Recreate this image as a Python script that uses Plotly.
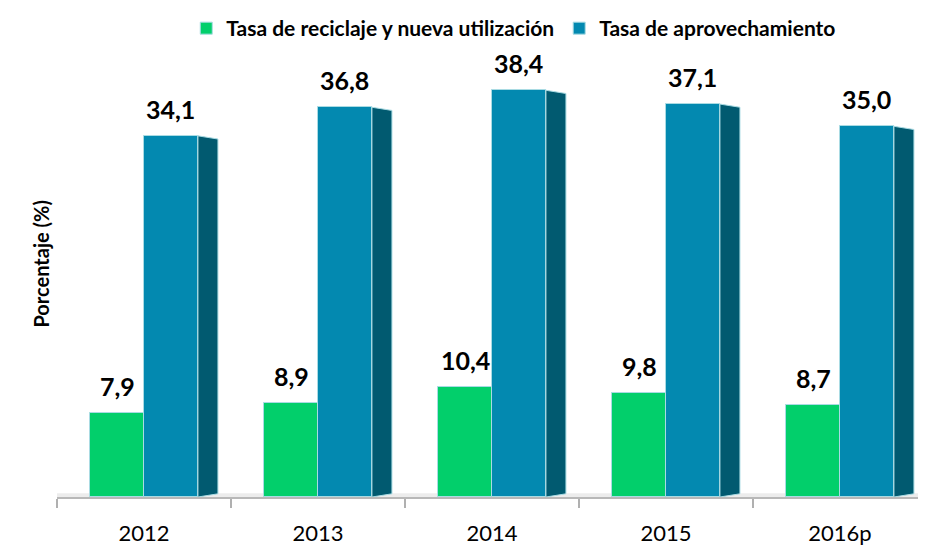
import plotly.graph_objects as go

categories = ["2012", "2013", "2014", "2015", "2016p"]
reciclaje = [7.9, 8.9, 10.4, 9.8, 8.7]
aprovechamiento = [34.1, 36.8, 38.4, 37.1, 35.0]
series_names = ["Tasa de reciclaje y nueva utilización", "Tasa de aprovechamiento"]

GREEN = "#02cf6b"
BLUE = "#0389b0"
SIDE = "#015a70"
EDGE = "#a9dbe3"
FONT = "Lato"

W = 0.31
idx = list(range(len(categories)))
x_green = [i - W / 2 for i in idx]
x_blue = [i + W / 2 for i in idx]

fig = go.Figure()
fig.add_trace(go.Bar(x=x_green, y=reciclaje, width=W, name=f"<b>{series_names[0]}</b>",
                     marker=dict(color=GREEN, line=dict(color=EDGE, width=1))))
fig.add_trace(go.Bar(x=x_blue, y=aprovechamiento, width=W, name=f"<b>{series_names[1]}</b>",
                     marker=dict(color=BLUE, line=dict(color=EDGE, width=1))))

shapes = []
# floor strip
shapes.append(dict(type="rect", xref="x", yref="y", x0=-0.62, x1=4.5, y0=0, y1=0.35,
                   fillcolor="#ececec", line=dict(width=0), layer="below"))
# side faces of blue bars (derived from data)
D = 0.115
for xb, v in zip(x_blue, aprovechamiento):
    x1 = xb + W / 2
    path = f"M {x1},0 L {x1 + D},0.3 L {x1 + D},{v - 0.3} L {x1},{v} Z"
    shapes.append(dict(type="path", xref="x", yref="y", path=path,
                       fillcolor=SIDE, line=dict(color=EDGE, width=1), layer="above"))

annotations = []
for xs, vals in ((x_green, reciclaje), (x_blue, aprovechamiento)):
    for xv, v in zip(xs, vals):
        annotations.append(dict(x=xv, y=v, xref="x", yref="y",
                                text=f"<b>{v:.1f}</b>".replace(".", ","),
                                showarrow=False, yanchor="bottom", yshift=10,
                                font=dict(family=FONT, size=25, color="black")))
annotations.append(dict(text="<b>Porcentaje (%)</b>", xref="paper", yref="paper",
                        x=-0.035, y=0.5, textangle=-90, showarrow=False,
                        font=dict(family=FONT, size=20, color="black")))

fig.update_layout(
    width=926, height=552,
    margin=dict(l=49, r=7, t=23, b=63, autoexpand=False),
    plot_bgcolor="white", paper_bgcolor="white",
    showlegend=True,
    legend=dict(orientation="h", x=0.525, xanchor="center", yref="container", y=1.0,
                yanchor="top", font=dict(family=FONT, size=21, color="black"),
                itemwidth=30, traceorder="normal"),
    xaxis=dict(range=[-0.5, 4.5], tickvals=idx, ticktext=categories, ticks="",
               showline=True, linecolor="#b8b8b8", linewidth=1.5, showgrid=False,
               zeroline=False, tickfont=dict(family=FONT, size=22, color="black"),
               ticklabelstandoff=16,
               minor=dict(tickvals=[i - 0.5 for i in idx] + [4.5], ticks="outside",
                          ticklen=9, tickcolor="#b0b0b0", tickwidth=1.5, showgrid=False)),
    yaxis=dict(range=[0, 44], showticklabels=False, showgrid=False, zeroline=False,
               showline=False, ticks=""),
    shapes=shapes,
    annotations=annotations,
    bargap=0,
)
fig.write_html("out.html")
